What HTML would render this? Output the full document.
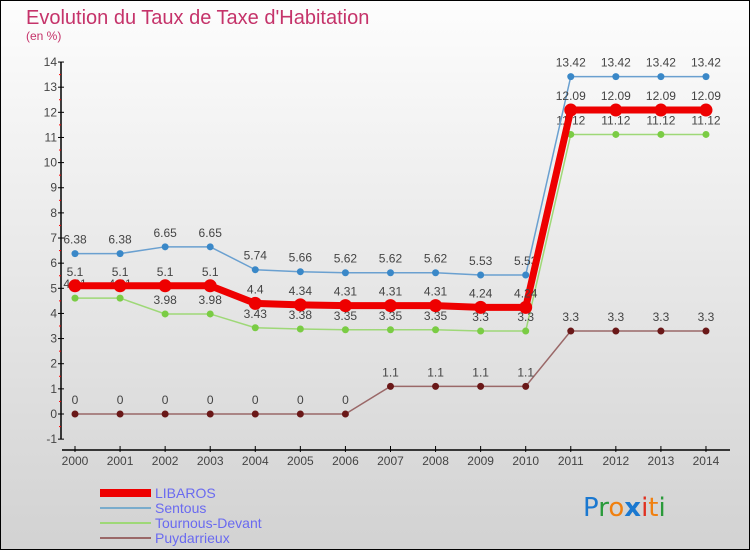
<!DOCTYPE html>
<html><head><meta charset="utf-8"><style>
body{margin:0;width:750px;height:550px;overflow:hidden;font-family:"Liberation Sans",sans-serif}
#wrap{position:absolute;left:0;top:0;width:748px;height:548px;border:1px solid #000;background:linear-gradient(#fdfdfd,#d2d2d2)}
</style></head><body>
<div id="wrap">
<svg id="chart" width="750" height="550" style="position:absolute;left:-1px;top:-1px">
<text x="26" y="24" font-size="20" fill="#c5336a">Evolution du Taux de Taxe d'Habitation</text>
<text x="26" y="40" font-size="12" fill="#c5336a">(en %)</text>
<g id="axes"></g><g id="series"></g>
<g>
<rect x="100" y="489" width="51" height="8" fill="#e00"/>
<text x="155" y="498" font-size="14" fill="#6a6af0">LIBAROS</text>
<rect x="100" y="507" width="51" height="2" fill="#7aaccc"/>
<text x="155" y="513" font-size="14" fill="#6a6af0">Sentous</text>
<rect x="100" y="522" width="51" height="2" fill="#9ed877"/>
<text x="155" y="528" font-size="14" fill="#6a6af0">Tournous-Devant</text>
<rect x="100" y="537" width="51" height="2" fill="#9a6868"/>
<text x="155" y="543" font-size="14" fill="#6a6af0">Puydarrieux</text>
</g>
<text x="583" y="516" font-size="26" font-family="'DejaVu Sans',sans-serif"><tspan fill="#1a78d0">P</tspan><tspan fill="#2a9a3a">r</tspan><tspan fill="#f08010">o</tspan><tspan fill="#1a78d0" font-weight="bold">x</tspan><tspan fill="#e03020">i</tspan><tspan fill="#f08010">t</tspan><tspan fill="#2a9a3a">i</tspan></text>
</svg></div>
<script>
const years=[2000,2001,2002,2003,2004,2005,2006,2007,2008,2009,2010,2011,2012,2013,2014];
const libaros=[5.1,5.1,5.1,5.1,4.4,4.34,4.31,4.31,4.31,4.24,4.24,12.09,12.09,12.09,12.09];
const sentous=[6.38,6.38,6.65,6.65,5.74,5.66,5.62,5.62,5.62,5.53,5.53,13.42,13.42,13.42,13.42];
const tournous=[4.61,4.61,3.98,3.98,3.43,3.38,3.35,3.35,3.35,3.3,3.3,11.12,11.12,11.12,11.12];
const puyd=[0,0,0,0,0,0,0,1.1,1.1,1.1,1.1,3.3,3.3,3.3,3.3];
const yTicks=[-1,0,1,2,3,4,5,6,7,8,9,10,11,12,13,14];
const NS="http://www.w3.org/2000/svg";
const X=i=>75+i*45.07, Y=v=>414-v*25.14;
function mk(t,a,p){const e=document.createElementNS(NS,t);for(const k in a)e.setAttribute(k,a[k]);p.appendChild(e);return e;}
const ax=document.getElementById('axes');
const yl=mk('line',{x1:61,y1:Y(14),x2:61,y2:Y(-1),stroke:'#000','stroke-width':1.5},ax);


yTicks.forEach(t=>{
 mk('line',{x1:58,y1:Y(t),x2:64,y2:Y(t),stroke:'#000'},ax);
 if(t<14)mk('line',{x1:59,y1:Y(t+0.5),x2:61,y2:Y(t+0.5),stroke:'#f00'},ax);
 const tx=mk('text',{x:57,y:Y(t)+4,'font-size':12,fill:'#444','text-anchor':'end'},ax);tx.textContent=t;
 
 
});
const xl=mk('line',{x1:62,y1:450,x2:730,y2:450,stroke:'#000','stroke-width':1.5},ax);


years.forEach((y,i)=>{
 mk('line',{x1:X(i),y1:446,x2:X(i),y2:452,stroke:'#000'},ax);
 const tx=mk('text',{x:X(i),y:465,'font-size':12,fill:'#444','text-anchor':'middle'},ax);tx.textContent=y;
 
 
});
const sg=document.getElementById('series');
function series(vals,name,color,w,r,dot){
 const g=mk('g',{},sg);
 
 
 mk('polyline',{points:vals.map((v,i)=>X(i)+','+Y(v)).join(' '),fill:'none',stroke:color,'stroke-width':w},g);
 vals.forEach((v,i)=>{
  const c=mk('circle',{cx:X(i),cy:Y(v),r:r,fill:dot},g);
  
  
  const t=mk('text',{x:X(i),y:Y(v)-10,'font-size':12,fill:'#444','text-anchor':'middle'},g);t.textContent=v;
  
  
 });
}
series(puyd,'puydarrieux','#9a6868',1.5,3.5,'#6a1818');
series(tournous,'tournous-devant','#9ed877',1.5,3.5,'#7acc44');
series(sentous,'sentous','#6aa0d0',1.5,3.5,'#3a88c8');
series(libaros,'libaros','#ee0000',7,6.5,'#ee0000');
</script>
</body></html>
